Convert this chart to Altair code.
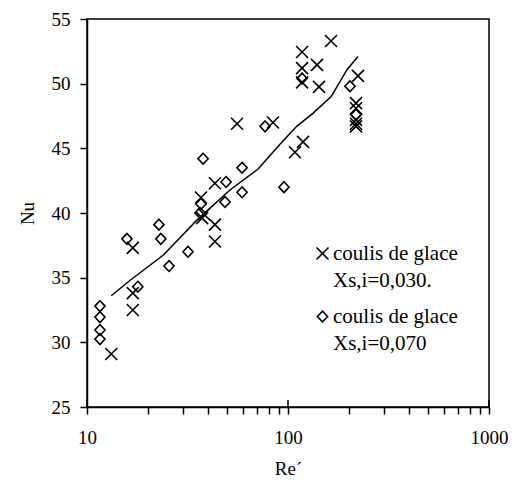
import altair as alt
import pandas as pd

# Series 1: coulis de glace Xs,i=0,030 (crosses)
re_030 = [13.2, 16.9, 16.9, 16.9, 36.9, 37.4, 38.2, 43.3, 43.3, 43.3, 55.8, 84.2,
          108.3, 118.8, 117.5, 117.5, 117.5, 139.4, 142.6, 163.7, 222.9,
          218.0, 218.0, 218.0, 218.0, 218.0]
nu_030 = [29.1, 33.8, 32.5, 37.3, 41.2, 39.6, 39.9, 42.3, 39.1, 37.8, 46.9, 47.0,
          44.7, 45.5, 52.45, 51.2, 50.1, 51.45, 49.75, 53.3, 50.6,
          48.5, 48.1, 47.2, 46.9, 46.7]

# Series 2: coulis de glace Xs,i=0,070 (diamonds)
re_070 = [11.6, 11.6, 11.6, 11.6, 15.8, 17.9, 22.8, 23.3, 25.6, 31.8, 36.9, 36.5,
          37.8, 48.6, 49.2, 59.1, 59.1, 76.9, 95.5, 117.5, 203.4, 218.0]
nu_070 = [32.8, 31.95, 30.95, 30.25, 38.0, 34.3, 39.1, 38.0, 35.9, 37.0, 40.7, 40.0,
          44.2, 40.85, 42.4, 43.5, 41.6, 46.7, 42.0, 50.4, 49.8, 47.6]

# Correlation curve
fit_re = [13.2, 16.4, 24.0, 35.2, 51.6, 71.0, 91.0, 110.5, 133.0, 164.0, 197.0, 223.0]
fit_nu = [33.6, 34.8, 36.75, 39.45, 41.8, 43.4, 45.3, 46.7, 47.7, 49.0, 51.1, 52.1]

series = ["coulis de glace|Xs,i=0,030.", "coulis de glace|Xs,i=0,070"]
x_ticks = [10, 20, 30, 40, 50, 60, 70, 80, 90, 100, 200, 300, 400, 500, 600, 700, 800, 900, 1000]
x_major = [10, 100, 1000]
y_ticks = [25, 30, 35, 40, 45, 50, 55]

W, H = 402, 388
FONT = "Liberation Serif, Times New Roman, Times, serif"

pts = pd.DataFrame({
    "re": re_030 + re_070,
    "nu": nu_030 + nu_070,
    "series": [series[0]] * len(re_030) + [series[1]] * len(re_070),
})
fit = pd.DataFrame({"re": fit_re, "nu": fit_nu})
major = pd.DataFrame({"re": x_major})

x_scale = alt.Scale(type="log", domain=[10, 1000], nice=False)
y_scale = alt.Scale(domain=[25, 55], nice=False, zero=False)

cross_path = "M-1,-1L1,1M-1,1L1,-1"
diamond_path = "M0,-0.9L0.85,0L0,0.9L-0.85,0Z"

x_axis = alt.Axis(
    values=x_ticks,
    labelExpr="(datum.value == 10 || datum.value == 100 || datum.value == 1000) ? datum.label : ''",
    format="d", title="Re´", grid=False, tickSize=7, labelPadding=14,
    labelFlush=False, titlePadding=12,
)
y_axis = alt.Axis(values=y_ticks, title="Nu", grid=False, tickSize=7,
                  labelPadding=10, titlePadding=14)

points = alt.Chart(pts).mark_point(filled=False, strokeWidth=1.6, color="black", opacity=1, size=144).encode(
    x=alt.X("re:Q", scale=x_scale, axis=x_axis),
    y=alt.Y("nu:Q", scale=y_scale, axis=y_axis),
    shape=alt.Shape(
        "series:N",
        scale=alt.Scale(domain=series, range=[cross_path, diamond_path]),
        legend=alt.Legend(
            title=None, orient="none", legendX=225, legendY=224,
            labelExpr="split(datum.label, '|')",
            labelFont=FONT, labelFontSize=21,
            labelColor="black", labelLimit=0,
            symbolSize=144, symbolStrokeColor="black", symbolFillColor="transparent",
            symbolStrokeWidth=1.6, rowPadding=14, labelOffset=0,
        ),
    ),
)

line = alt.Chart(fit).mark_line(color="black", strokeWidth=1.5).encode(
    x=alt.X("re:Q", scale=x_scale),
    y=alt.Y("nu:Q", scale=y_scale),
)

ticks_up = alt.Chart(major).mark_rule(color="black", strokeWidth=1.5).encode(
    x=alt.X("re:Q", scale=x_scale),
    y=alt.value(H - 7),
    y2=alt.value(H),
)

chart = alt.layer(line, points, ticks_up).properties(
    width=W, height=H,
    autosize=alt.AutoSizeParams(type="none"),
    padding={"left": 79, "top": 11, "right": 24, "bottom": 75},
).configure(
    style={"guide-label": {"lineHeight": 27}},
).configure_view(
    stroke="black", strokeWidth=1.5,
).configure_axis(
    domainColor="black", domainWidth=1.5, tickColor="black", tickWidth=1.5,
    labelFont=FONT, labelFontSize=19, labelColor="black",
    titleFont=FONT, titleFontSize=19, titleFontWeight="normal", titleColor="black",
)

chart.save("out.html", embed_options={"renderer": "svg", "actions": False})
